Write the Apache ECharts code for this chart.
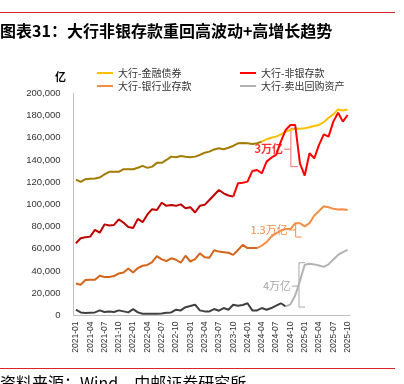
<!DOCTYPE html>
<html><head><meta charset="utf-8">
<script src="https://cdn.jsdelivr.net/npm/echarts@6/dist/echarts.min.js"></script>
<style>html,body{margin:0;padding:0;background:#fff}#c{width:404px;height:384px}</style>
</head><body><div id="c"></div><script>
const months = ['2021-01','2021-02','2021-03','2021-04','2021-05','2021-06','2021-07','2021-08','2021-09','2021-10','2021-11','2021-12',
'2022-01','2022-02','2022-03','2022-04','2022-05','2022-06','2022-07','2022-08','2022-09','2022-10','2022-11','2022-12',
'2023-01','2023-02','2023-03','2023-04','2023-05','2023-06','2023-07','2023-08','2023-09','2023-10','2023-11','2023-12',
'2024-01','2024-02','2024-03','2024-04','2024-05','2024-06','2024-07','2024-08','2024-09','2024-10','2024-11','2024-12',
'2025-01','2025-02','2025-03','2025-04','2025-05','2025-06','2025-07','2025-08','2025-09','2025-10'];
// 亿元
const finBonds = [122300,120300,122700,123000,123300,124200,127000,129300,129300,129300,131700,131700,
131700,133000,134700,132900,134000,137400,137400,140000,143000,142500,143500,142800,
142500,143000,144500,146500,147500,149500,150500,149700,151000,152600,155000,155300,
155000,154400,155000,156500,158600,160000,161000,163000,165500,167000,168000,168200,
168500,169500,170500,171500,174000,178000,181000,185500,184500,185500];
const nonBankDep = [65000,69500,70500,71000,77000,74500,82000,81000,81500,86500,83500,79600,
78700,87000,84000,91000,95700,95000,101500,98700,99500,98700,100000,96600,
97500,92700,98700,99600,104000,108500,113000,110000,108000,107000,119000,119500,
120500,130000,131000,128000,138500,142000,144500,156500,167000,171500,171500,137000,
126000,146000,141500,153500,163000,161000,174500,182500,174500,180500];
const bankDep = [28800,27700,32000,32200,32200,35800,34600,34600,35500,37800,38700,42300,
38700,42700,44800,45500,48000,53500,50500,49000,51500,50200,47500,53800,
48600,50800,56000,52400,52000,58800,57500,57000,56500,54600,59000,63600,
60700,60700,60700,63000,66000,71000,74000,76500,77800,77800,83000,83000,
80200,83100,90000,94000,98400,97500,96000,95500,95700,95000];
const repoAssets = [5200,2800,2200,2500,2800,4600,3100,3700,3100,4600,3700,2800,
5800,2800,1600,1500,1500,1500,1800,2500,2800,5200,4600,7500,
8500,9700,4600,3700,3700,5800,4300,6700,5200,9700,8800,9500,
11000,4600,4600,6700,5200,6700,8800,11000,8200,10000,18000,31000,
45700,46500,46000,45000,43800,46000,50500,54500,57000,59000];

const names = ['大行-金融债券','大行-非银存款','大行-银行业存款','大行-卖出回购资产'];
const cfg = [
  {name:names[0], data:finBonds,   split:39, dark:'#a27b00', light:'#ffc000'},
  {name:names[2], data:bankDep,    split:38, dark:'#d4651a', light:'#f58d45'},
  {name:names[3], data:repoAssets, split:44, dark:'#404040', light:'#b2b2b2'},
  {name:names[1], data:nonBankDep, split:33, dark:'#c00000', light:'#ff0000'}
];
const series = [];
cfg.forEach(c => {
  series.push({name:c.name+' ', type:'line', showSymbol:false, symbol:'none', z:2,
    data:c.data.map((v,i)=> i<=c.split ? v : null),
    lineStyle:{color:c.dark, width:2}, itemStyle:{color:c.dark}});
  series.push({name:c.name, type:'line', showSymbol:false, symbol:'none', z:2,
    data:c.data.map((v,i)=> i>=c.split ? v : null),
    lineStyle:{color:c.light, width:2}, itemStyle:{color:c.light}});
});
const FONT = '"Liberation Sans", Arial, "Noto Sans CJK SC", sans-serif';
const CJK = '"Noto Sans CJK SC", sans-serif';
const legendBase = {orient:'vertical', top:68, padding:0, itemGap:3, itemWidth:16, itemHeight:2, icon:'rect',
  textStyle:{fontSize:10, color:'#333', fontFamily:CJK}};
const chart = echarts.init(document.getElementById('c'), null, {renderer:'canvas'});
chart.setOption({
  animation:false,
  backgroundColor:'#fff',
  title:{text:'图表31：大行非银存款重回高波动+高增长趋势', left:0, top:23, padding:0,
    textStyle:{fontSize:16, fontWeight:'bold', color:'#000', fontFamily:CJK}},
  legend:[
    Object.assign({}, legendBase, {left:97, data:[{name:names[0], itemStyle:{color:'#ffc000'}}, {name:names[2], itemStyle:{color:'#f58d45'}}]}),
    Object.assign({}, legendBase, {left:240, data:[{name:names[1], itemStyle:{color:'#ff0000'}}, {name:names[3], itemStyle:{color:'#b2b2b2'}}]})
  ],
  grid:{left:73.5, right:54, top:93.3, bottom:68.5, containLabel:false},
  xAxis:{type:'category', data:months, boundaryGap:true,
    axisLine:{lineStyle:{color:'#bfbfbf'}},
    axisTick:{alignWithLabel:true, interval:2, length:4, lineStyle:{color:'#bfbfbf'}},
    axisLabel:{interval:2, rotate:90, fontSize:8.5, color:'#333', fontFamily:FONT, margin:6}},
  yAxis:{type:'value', min:0, max:200000, interval:20000,
    axisLine:{show:true, lineStyle:{color:'#bfbfbf'}}, axisTick:{show:false}, splitLine:{show:false},
    axisLabel:{fontSize:9.5, color:'#333', fontFamily:FONT, margin:13,
      formatter:v=>v.toLocaleString('en-US')}},
  series:series
});

function px(idx, val){
  const a = chart.convertToPixel({xAxisIndex:0, yAxisIndex:0}, [0, val]);
  const b = chart.convertToPixel({xAxisIndex:0, yAxisIndex:0}, [1, val]);
  return [a[0] + idx*(b[0]-a[0]), a[1]];
}
function bracket(idx, top, bottom, mid, label, color, textColor, arm, weight){
  const t = px(idx, top), b = px(idx, bottom), m = px(idx, mid);
  return [
    {type:'polyline', shape:{points:[[t[0]+arm, t[1]], t, b, [b[0]+arm, b[1]]]}, style:{stroke:color, lineWidth:1, fill:null}},
    {type:'line', shape:{x1:m[0]-7, y1:m[1], x2:m[0], y2:m[1]}, style:{stroke:color, lineWidth:1}},
    {type:'text', x:m[0]-8, y:m[1], style:{text:label, fill:textColor, font:weight+' 11px '+CJK, align:'right', verticalAlign:'middle'}}
  ];
}
const g = [];
g.push({type:'line', shape:{x1:0, y1:12.5, x2:395, y2:12.5}, style:{stroke:'#d9262a', lineWidth:1.2}});
g.push({type:'line', shape:{x1:0, y1:368.5, x2:395, y2:368.5}, style:{stroke:'#d9262a', lineWidth:1.2}});
g.push({type:'text', x:0, y:375, style:{text:'资料来源：Wind，中邮证券研究所', fill:'#000', font:'16px '+CJK}});
g.push({type:'text', x:66, y:77, style:{text:'亿', fill:'#000', font:'bold 11px '+CJK, align:'right', verticalAlign:'middle'}});
g.push(...bracket(45.1, 168500, 134000, 149700, '3万亿', '#ff6b6b', '#ff3030', 7, 'bold'));
g.push(...bracket(46.1, 83000, 70600, 77000, '1.3万亿', '#f58d45', '#f58d45', 6, 'normal'));
g.push(...bracket(46.8, 47500, 7600, 26500, '4万亿', '#a6a6a6', '#a6a6a6', 6, 'normal'));
chart.setOption({graphic:{elements:g}});
</script></body></html>
